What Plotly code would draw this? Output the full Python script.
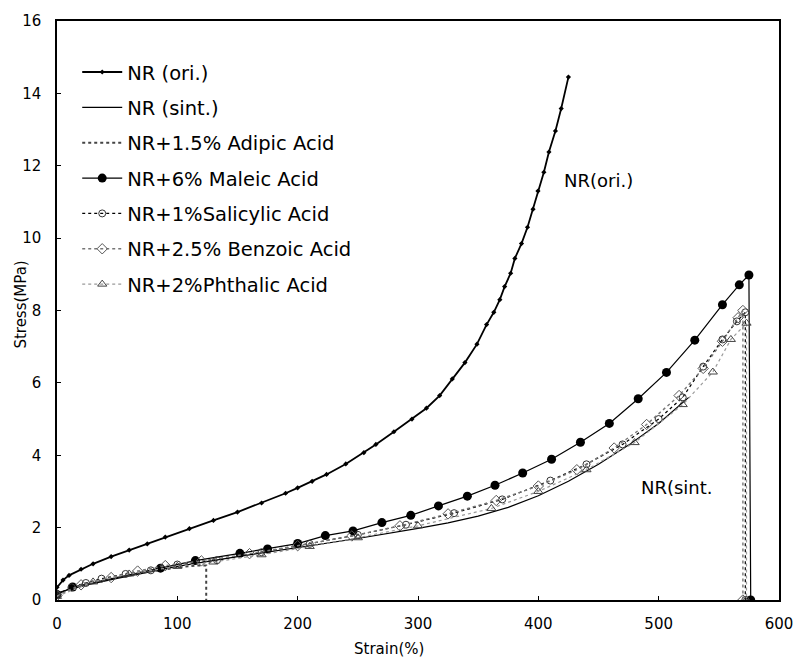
import plotly.graph_objects as go

# ---------------- data ----------------
ori_strain = [0, 5, 10, 20, 30, 45, 60, 75, 90, 110, 130, 150, 170, 190, 200, 212, 224,
              240, 255, 265, 280, 295, 307, 318, 328.5, 339, 349, 357, 363, 368, 372,
              377, 380.5, 386, 391, 395.6, 399.7, 404.6, 408.8, 414.2, 419, 425]
ori_stress = [0.35, 0.55, 0.68, 0.85, 1.0, 1.2, 1.38, 1.55, 1.74, 1.97, 2.2, 2.43, 2.68,
              2.95, 3.1, 3.28, 3.47, 3.76, 4.07, 4.3, 4.65, 5.0, 5.3, 5.65, 6.11, 6.56,
              7.07, 7.61, 7.95, 8.3, 8.66, 9.03, 9.44, 9.85, 10.3, 10.8, 11.3, 11.82,
              12.38, 12.96, 13.58, 14.45]

sint_strain = [0, 25, 50, 100, 150, 200, 250, 300, 325, 350, 375, 400, 425, 450, 475,
               500, 525]
sint_stress = [0.2, 0.42, 0.6, 0.93, 1.2, 1.45, 1.7, 1.98, 2.13, 2.32, 2.56, 2.88, 3.28,
               3.75, 4.28, 4.88, 5.6]

adipic_strain = [0, 20, 40, 60, 80, 100, 115, 124, 124]
adipic_stress = [0.15, 0.42, 0.58, 0.7, 0.8, 0.9, 0.95, 0.95, 0]

maleic_strain = [0, 13, 86, 115, 152, 175, 200, 223, 246, 270, 294, 317, 341, 364, 387,
                 411, 435, 459, 483, 506.5, 530, 553, 567, 575, 576.5]
maleic_stress = [0.15, 0.36, 0.88, 1.09, 1.29, 1.41, 1.56, 1.78, 1.91, 2.14, 2.34, 2.6,
                 2.87, 3.17, 3.51, 3.89, 4.36, 4.88, 5.56, 6.29, 7.18, 8.16, 8.71, 8.98, 0]

salicylic_strain = [0, 12, 24, 37, 57, 78, 100, 133, 170, 210, 250, 290, 330, 370, 410,
                    440, 470, 500, 520, 537, 553, 565, 572, 572]
salicylic_stress = [0.15, 0.35, 0.47, 0.59, 0.72, 0.82, 0.98, 1.1, 1.32, 1.55, 1.8, 2.08,
                    2.4, 2.78, 3.3, 3.75, 4.3, 5.0, 5.6, 6.45, 7.2, 7.7, 7.95, 0]

benzoic_strain = [0, 20, 45, 67, 90, 120, 160, 200, 245, 285, 325, 365, 400, 432, 463,
                  490, 517, 537, 553, 566, 570, 570]
benzoic_stress = [0.12, 0.42, 0.62, 0.8, 0.95, 1.08, 1.28, 1.5, 1.77, 2.05, 2.38, 2.75,
                  3.15, 3.6, 4.2, 4.85, 5.65, 6.4, 7.15, 7.8, 8.0, 0]

phthalic_strain = [0, 30, 60, 100, 130, 170, 210, 250, 300, 361, 400, 440, 480, 520, 545,
                   560, 573, 573]
phthalic_stress = [0.1, 0.5, 0.72, 0.93, 1.05, 1.25, 1.48, 1.72, 2.05, 2.53, 3.0, 3.6,
                   4.35, 5.4, 6.3, 7.2, 7.65, 0]

x_ticks = [0, 100, 200, 300, 400, 500, 600]
y_ticks = [0, 2, 4, 6, 8, 10, 12, 14, 16]

FONT = "DejaVu Sans"

fig = go.Figure()

def add(x, y, name, grp, line, marker=None, mode="lines"):
    fig.add_trace(go.Scatter(x=x, y=y, name=name, mode=mode, line=line,
                             marker=marker, legendgroup=grp))

add(ori_strain, ori_stress, "NR (ori.)", "g1",
    dict(color="black", width=1.8),
    dict(symbol="diamond", size=4, color="black"), "lines+markers")
add(sint_strain, sint_stress, "NR (sint.)", "g2",
    dict(color="black", width=1.2))
add(adipic_strain, adipic_stress, "NR+1.5% Adipic Acid", "g3",
    dict(color="#444444", width=2, dash="dot"))
add(maleic_strain, maleic_stress, "NR+6% Maleic Acid", "g4",
    dict(color="black", width=1.2),
    dict(symbol="circle", size=9, color="black"), "lines+markers")
add(salicylic_strain, salicylic_stress, "NR+1%Salicylic Acid", "g5",
    dict(color="black", width=1.2, dash="dot"),
    dict(symbol="circle-open", size=7, color="#333333", line=dict(width=1)),
    "lines+markers")
add(benzoic_strain, benzoic_stress, "NR+2.5% Benzoic Acid", "g6",
    dict(color="#777777", width=1.4, dash="dot"),
    dict(symbol="diamond-open", size=8, color="#555555", line=dict(width=1)),
    "lines+markers")
add(phthalic_strain, phthalic_stress, "NR+2%Phthalic Acid", "g7",
    dict(color="#9a9a9a", width=1.2, dash="dot"),
    dict(symbol="triangle-up-open", size=8, color="#444444", line=dict(width=1)),
    "lines+markers")

fig.add_annotation(x=420, y=11.6, text="NR(ori.)", showarrow=False,
                   xanchor="left", yanchor="middle",
                   font=dict(family=FONT, size=18, color="black"))
fig.add_annotation(x=484, y=3.1, text="NR(sint.", showarrow=False,
                   xanchor="left", yanchor="middle",
                   font=dict(family=FONT, size=18, color="black"))
fig.add_annotation(xref="paper", yref="paper", x=-0.05, y=0.51, text="Stress(MPa)",
                   textangle=-90, showarrow=False, xanchor="center", yanchor="middle",
                   font=dict(family=FONT, size=15, color="black"))
fig.add_annotation(xref="paper", yref="paper", x=0.46, y=-0.085, text="Strain(%)",
                   showarrow=False, xanchor="center", yanchor="middle",
                   font=dict(family=FONT, size=15, color="black"))

axis_common = dict(showgrid=False, zeroline=False, showline=True, linecolor="black",
                   linewidth=1.5, mirror=True, ticks="inside", ticklen=4,
                   tickcolor="black", tickfont=dict(family=FONT, size=15, color="black"))

fig.update_xaxes(range=[0, 600], tickvals=x_ticks, ticktext=[str(v) for v in x_ticks],
                 ticklabelstandoff=9, **axis_common)
fig.update_yaxes(range=[0, 16], tickvals=y_ticks, ticktext=[str(v) for v in y_ticks],
                 ticklabelstandoff=11, **axis_common)

fig.update_layout(
    width=805, height=665,
    margin=dict(l=57, r=18, t=15, b=65),
    paper_bgcolor="white", plot_bgcolor="white",
    showlegend=True,
    legend=dict(x=0.028, y=0.945, xanchor="left", yanchor="top",
                bgcolor="rgba(0,0,0,0)", borderwidth=0,
                font=dict(family=FONT, size=19.5, color="black"),
                tracegroupgap=7, itemwidth=40),
    font=dict(family=FONT, color="black"),
)

fig.write_html("out.html")
